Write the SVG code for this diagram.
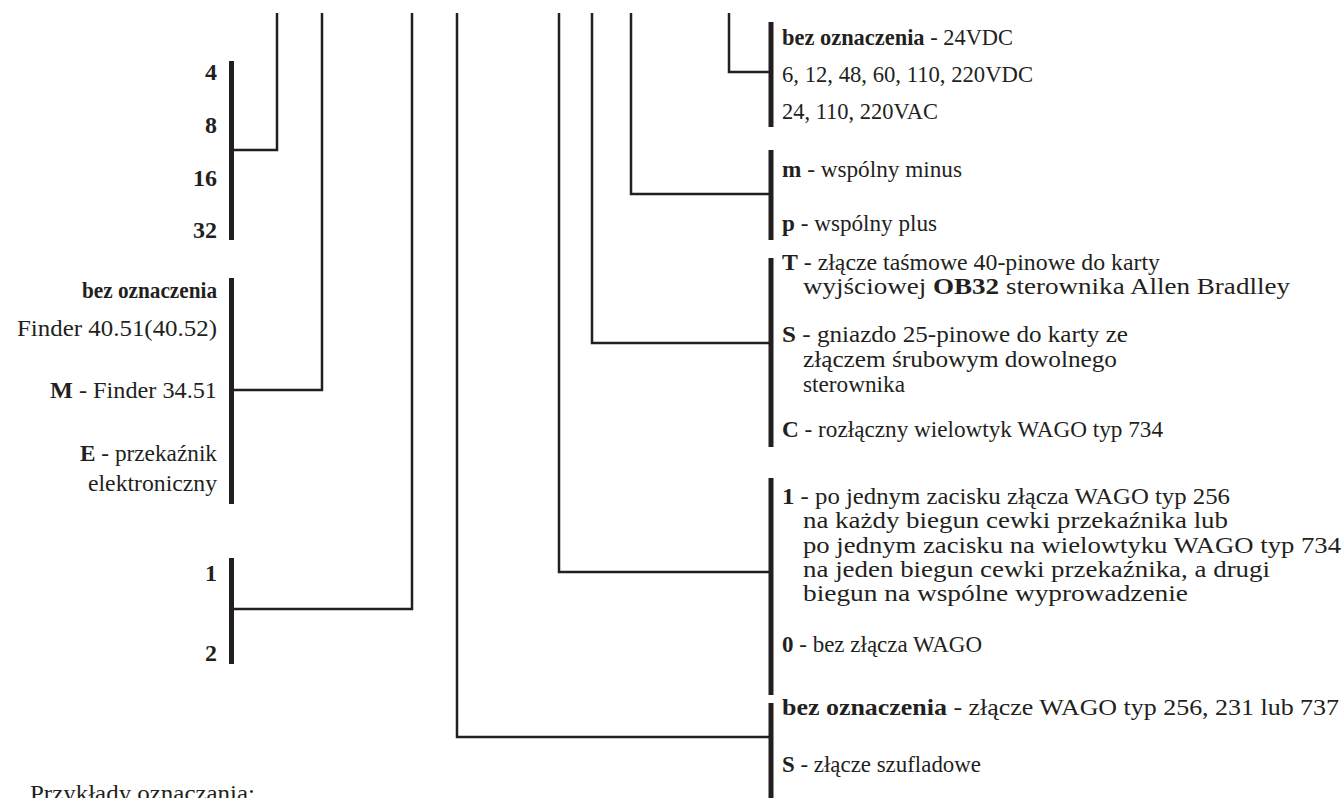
<svg xmlns="http://www.w3.org/2000/svg" width="1344" height="798" viewBox="0 0 1344 798">
<style>
text{font-family:"Liberation Serif","Times New Roman",serif;font-size:24px;fill:#231f20}
.b{font-weight:bold}
.r{text-anchor:end}
.bar{stroke:#231f20;stroke-width:5;fill:none}
.cn{stroke:#231f20;stroke-width:2.5;fill:none}
</style>
<rect width="1344" height="798" fill="#fff"/>
<g id="connectors">
<polyline class="cn" points="277,13 277,150 233,150"/>
<polyline class="cn" points="322,13 322,390 233,390"/>
<polyline class="cn" points="412,13 412,609 233,609"/>
<polyline class="cn" points="457,13 457,737 771,737"/>
<polyline class="cn" points="559,13 559,572 771,572"/>
<polyline class="cn" points="592,13 592,343 771,343"/>
<polyline class="cn" points="631,13 631,194 771,194"/>
<polyline class="cn" points="729,13 729,72 771,72"/>
</g>
<g id="count">
<line class="bar" x1="231.5" y1="61" x2="231.5" y2="240"/>
<text class="r b" x="217" y="80">4</text>
<text class="r b" x="217" y="133">8</text>
<text class="r b" x="217" y="186">16</text>
<text class="r b" x="217" y="238">32</text>
</g>
<g id="relay">
<line class="bar" x1="231.5" y1="278" x2="231.5" y2="504"/>
<text class="r b" x="217" y="298" textLength="135" lengthAdjust="spacingAndGlyphs">bez oznaczenia</text>
<text class="r" x="217" y="336" textLength="200" lengthAdjust="spacingAndGlyphs">Finder 40.51(40.52)</text>
<text class="r" x="217" y="398" textLength="167" lengthAdjust="spacingAndGlyphs"><tspan class="b">M</tspan> - Finder 34.51</text>
<text class="r" x="217" y="461" textLength="137" lengthAdjust="spacingAndGlyphs"><tspan class="b">E</tspan> - przekaźnik</text>
<text class="r" x="217" y="491" textLength="129" lengthAdjust="spacingAndGlyphs">elektroniczny</text>
</g>
<g id="variant">
<line class="bar" x1="231.5" y1="558" x2="231.5" y2="664"/>
<text class="r b" x="217" y="581">1</text>
<text class="r b" x="217" y="661">2</text>
</g>
<g id="examples">
<text x="30" y="801" textLength="225" lengthAdjust="spacingAndGlyphs">Przykłady oznaczania:</text>
</g>
<g id="voltage">
<line class="bar" x1="771" y1="22" x2="771" y2="127"/>
<text x="782" y="45" textLength="231" lengthAdjust="spacingAndGlyphs"><tspan class="b">bez oznaczenia</tspan> - 24VDC</text>
<text x="782" y="82" textLength="251" lengthAdjust="spacingAndGlyphs">6, 12, 48, 60, 110, 220VDC</text>
<text x="782" y="119" textLength="156" lengthAdjust="spacingAndGlyphs">24, 110, 220VAC</text>
</g>
<g id="common">
<line class="bar" x1="771" y1="150" x2="771" y2="240"/>
<text x="782" y="177" textLength="180" lengthAdjust="spacingAndGlyphs"><tspan class="b">m</tspan> - wspólny minus</text>
<text x="782" y="231" textLength="155" lengthAdjust="spacingAndGlyphs"><tspan class="b">p</tspan> - wspólny plus</text>
</g>
<g id="connector-type">
<line class="bar" x1="771" y1="258" x2="771" y2="447"/>
<text x="782" y="270" textLength="378" lengthAdjust="spacingAndGlyphs"><tspan class="b">T</tspan> - złącze taśmowe 40-pinowe do karty</text>
<text x="803" y="294" textLength="487" lengthAdjust="spacingAndGlyphs">wyjściowej <tspan class="b">OB32</tspan> sterownika Allen Bradlley</text>
<text x="782" y="342" textLength="346" lengthAdjust="spacingAndGlyphs"><tspan class="b">S</tspan> - gniazdo 25-pinowe do karty ze</text>
<text x="803" y="367" textLength="314" lengthAdjust="spacingAndGlyphs">złączem śrubowym dowolnego</text>
<text x="803" y="392" textLength="102" lengthAdjust="spacingAndGlyphs">sterownika</text>
<text x="782" y="437" textLength="381" lengthAdjust="spacingAndGlyphs"><tspan class="b">C</tspan> - rozłączny wielowtyk WAGO typ 734</text>
</g>
<g id="wago">
<line class="bar" x1="771" y1="478" x2="771" y2="695"/>
<text x="782" y="504" textLength="448" lengthAdjust="spacingAndGlyphs"><tspan class="b">1</tspan> - po jednym zacisku złącza WAGO typ 256</text>
<text x="803" y="528" textLength="425" lengthAdjust="spacingAndGlyphs">na każdy biegun cewki przekaźnika lub</text>
<text x="803" y="553" textLength="538" lengthAdjust="spacingAndGlyphs">po jednym zacisku na wielowtyku WAGO typ 734</text>
<text x="803" y="577" textLength="467" lengthAdjust="spacingAndGlyphs">na jeden biegun cewki przekaźnika, a drugi</text>
<text x="803" y="601" textLength="385" lengthAdjust="spacingAndGlyphs">biegun na wspólne wyprowadzenie</text>
<text x="782" y="652" textLength="200" lengthAdjust="spacingAndGlyphs"><tspan class="b">0</tspan> - bez złącza WAGO</text>
</g>
<g id="output">
<line class="bar" x1="771" y1="703" x2="771" y2="800"/>
<text x="782" y="715" textLength="557" lengthAdjust="spacingAndGlyphs"><tspan class="b">bez oznaczenia</tspan> - złącze WAGO typ 256, 231 lub 737</text>
<text x="782" y="772" textLength="199" lengthAdjust="spacingAndGlyphs"><tspan class="b">S</tspan> - złącze szufladowe</text>
</g>
</svg>
